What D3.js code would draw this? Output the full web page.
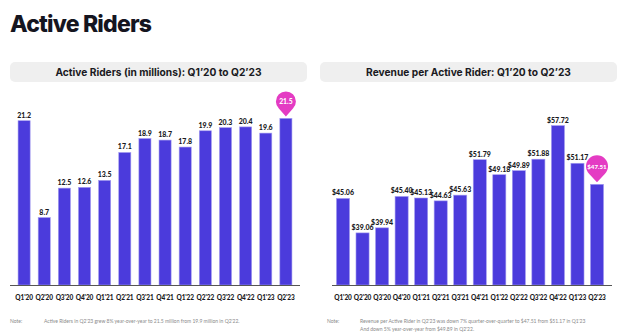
<!DOCTYPE html>
<html lang="en">
<head>
    <meta charset="UTF-8">
    <title>Active Riders</title>
    <script src="https://d3js.org/d3.v7.min.js"></script>
    <style>
        body {
            margin: 0;
            background: #fff;
            font-family: Lato, "Open Sans", sans-serif;
        }
        svg { display: block; }
    </style>
</head>
<body>
    <div id="chart"></div>

    <script>
        const quarters = ["Q1'20", "Q2'20", "Q3'20", "Q4'20", "Q1'21", "Q2'21", "Q3'21",
                          "Q4'21", "Q1'22", "Q2'22", "Q3'22", "Q4'22", "Q1'23", "Q2'23"];
        const riders = [21.2, 8.7, 12.5, 12.6, 13.5, 17.1, 18.9, 18.7, 17.8, 19.9, 20.3, 20.4, 19.6, 21.5];
        const revenue = [45.06, 39.06, 39.94, 45.40, 45.13, 44.63, 45.63, 51.79, 49.18, 49.89, 51.88, 57.72, 51.17, 47.51];
        const riderNote = ["Active Riders in Q2'23 grew 8% year-over-year to 21.5 million from 19.9 million in Q2'22."];
        const revenueNote = ["Revenue per Active Rider in Q2'23 was down 7% quarter-over-quarter to $47.51 from $51.17 in Q1'23",
                             "And down 5% year-over-year from $49.89 in Q2'22."];

        const barColor = "#4b3bdc";
        const pinColor = "#e43cc3";

        const svg = d3.select("#chart").append("svg").attr("width", 640).attr("height", 335);

        svg.append("text")
            .attr("x", 10).attr("y", 32)
            .attr("font-family", "Inter, sans-serif")
            .attr("font-size", 23).attr("font-weight", 800)
            .attr("letter-spacing", -0.8)
            .attr("fill", "#15151f")
            .text("Active Riders");

        function drawPanel(opts) {
            const g = svg.append("g");

            // header strip
            g.append("rect")
                .attr("x", opts.left).attr("y", 62)
                .attr("width", opts.right - opts.left).attr("height", 20)
                .attr("rx", 5).attr("fill", "#efefef");
            g.append("text")
                .attr("x", (opts.left + opts.right) / 2).attr("y", 76)
                .attr("text-anchor", "middle")
                .attr("font-family", "Inter, sans-serif")
                .attr("font-size", 10.2).attr("font-weight", 700)
                .attr("fill", "#1a1a22")
                .text(opts.title);

            const x = d3.scaleBand().domain(quarters).range(opts.xRange).padding(opts.pad);
            const y = d3.scaleLinear().domain(opts.yDomain).range([285, opts.yTop]);

            const data = quarters.map((q, i) => ({ q, v: opts.values[i], last: i === quarters.length - 1 }));

            g.selectAll("rect.bar")
                .data(data)
                .enter().append("rect")
                .attr("class", "bar")
                .attr("x", d => x(d.q))
                .attr("y", d => y(d.v))
                .attr("width", x.bandwidth())
                .attr("height", d => y(opts.yDomain[0]) - y(d.v))
                .attr("fill", barColor)
                .attr("stroke", "#a49cf0")
                .attr("stroke-width", 0.6);

            g.selectAll("text.val")
                .data(data.filter(d => !d.last))
                .enter().append("text")
                .attr("class", "val")
                .attr("x", d => x(d.q) + x.bandwidth() / 2)
                .attr("y", d => y(d.v) - 3)
                .attr("text-anchor", "middle")
                .attr("font-size", 7).attr("font-weight", 900)
                .attr("fill", "#1a1a22")
                .text(d => opts.fmt(d.v));

            // baseline
            g.append("line")
                .attr("x1", opts.axis[0]).attr("x2", opts.axis[1])
                .attr("y1", 285.5).attr("y2", 285.5)
                .attr("stroke", "#555").attr("stroke-width", 1);

            g.selectAll("text.tick")
                .data(quarters)
                .enter().append("text")
                .attr("class", "tick")
                .attr("x", d => x(d) + x.bandwidth() / 2)
                .attr("y", 299.5)
                .attr("text-anchor", "middle")
                .attr("font-size", 6.5).attr("font-weight", 900)
                .attr("letter-spacing", -0.1)
                .attr("fill", "#1a1a22")
                .text(d => d);

            // pin marker over the latest quarter
            const lastD = data[data.length - 1];
            const cx = x(lastD.q) + x.bandwidth() / 2;
            const tip = y(lastD.v) - 2;
            const r = opts.pinR;
            const cy = tip - r - 5;
            const a = Math.PI / 4;
            const path = d3.path();
            path.moveTo(cx, tip);
            path.lineTo(cx - r * Math.sin(a), cy + r * Math.cos(a));
            path.arc(cx, cy, r, Math.PI / 2 + a, Math.PI / 2 - a + 2 * Math.PI);
            path.closePath();
            g.append("path").attr("d", path.toString()).attr("fill", pinColor);
            g.append("text")
                .attr("x", cx).attr("y", cy + 2.3)
                .attr("text-anchor", "middle")
                .attr("font-size", opts.pinFont).attr("font-weight", 900)
                .attr("fill", "#fff")
                .text(opts.fmt(lastD.v));

            // note
            g.append("text")
                .attr("x", opts.noteX).attr("y", 323)
                .attr("font-size", 5).attr("fill", "#8a8a8a")
                .text("Note:");
            g.selectAll("text.note")
                .data(opts.note)
                .enter().append("text")
                .attr("class", "note")
                .attr("x", opts.noteTextX)
                .attr("y", (d, i) => 323 + i * 7.5)
                .attr("font-size", 5).attr("fill", "#8a8a8a")
                .text(d => d);
        }

        drawPanel({
            left: 10, right: 307,
            title: "Active Riders (in millions): Q1\u201920 to Q2\u201923",
            values: riders,
            xRange: [10, 300], pad: 0.4,
            yDomain: [0, 25], yTop: 285 - 25 * 7.75,
            axis: [10, 300],
            fmt: d3.format(".1f"),
            pinR: 10, pinFont: 6.8,
            note: riderNote, noteX: 10, noteTextX: 44
        });

        drawPanel({
            left: 320, right: 617,
            title: "Revenue per Active Rider: Q1\u201920 to Q2\u201923",
            values: revenue,
            xRange: [330, 610], pad: 0.33,
            yDomain: [30, 60], yTop: 285 - 30 * 5.75,
            axis: [332, 612],
            fmt: v => "$" + d3.format(".2f")(v),
            pinR: 11, pinFont: 6.2,
            note: revenueNote, noteX: 327, noteTextX: 360
        });
    </script>
</body>
</html>
